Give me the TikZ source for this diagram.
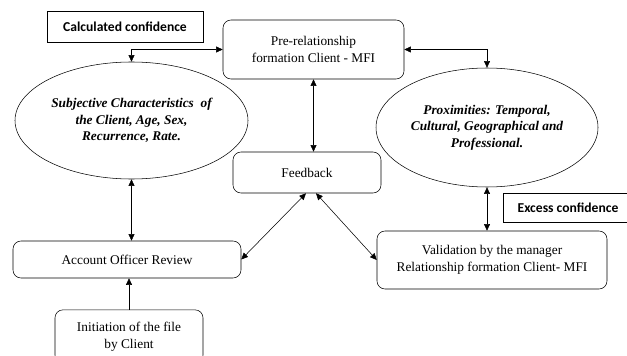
\documentclass[tikz,border=0pt]{standalone}
\usepackage{fontspec}
\setmainfont{Liberation Serif}
\newfontfamily\calibrifont{Carlito}
\usetikzlibrary{arrows.meta,positioning,shapes.geometric,calc}
\tikzset{
    stagebox/.style={draw,rounded corners=6pt,align=center,font=\fontsize{10}{12.5}\selectfont,inner sep=0pt},
    factor/.style={draw,ellipse,align=center,inner sep=0pt,font=\fontsize{10}{12.5}\selectfont\bfseries\itshape},
    tag/.style={draw,align=center,inner sep=0pt,font=\fontsize{10.2}{12}\selectfont\calibrifont\bfseries},
    link/.style={{Triangle[length=5pt,width=4.5pt]}-{Triangle[length=5pt,width=4.5pt]},thin},
    push/.style={-{Triangle[length=5pt,width=4.5pt]},thin}
}

\begin{document}
\begin{tikzpicture}[x=0.75pt,y=-0.75pt]
    \useasboundingbox (0,0) rectangle (627,356);
    \begin{scope}
    \clip (0,0) rectangle (627,356);
    \node [tag,minimum width=117pt,minimum height=23.25pt] (calc) at (125,26.5) {Calculated confidence};
    \node [stagebox,minimum width=135.75pt,minimum height=44.25pt] (pre) at (313.5,49.5) {Pre-relationship\\formation Client - MFI};
    \node [factor,minimum width=174.75pt,minimum height=87.75pt] (subj) at (131.5,120.5) {Subjective Characteristics~ of\\the Client, Age, Sex,\\Recurrence, Rate.};
    \node [factor,minimum width=166.5pt,minimum height=89.25pt] (prox) at (487,127.5) {Proximities: Temporal,\\Cultural, Geographical and\\Professional.};
    \node [stagebox,minimum width=111pt,minimum height=30.75pt] (feed) at (307,172.5) {Feedback};
    \node [tag,minimum width=97.5pt,minimum height=21.75pt] (excess) at (568,207.5) {Excess confidence};
    \node [stagebox,minimum width=171pt,minimum height=27.75pt] (review) at (127,259.5) {Account Officer Review};
    \node [stagebox,minimum width=172.5pt,minimum height=43.5pt] (valid) at (492,260) {Validation by the manager\\Relationship formation Client- MFI};
    \node [stagebox,minimum width=111pt,minimum height=40pt] (init) at (129,336.5) {Initiation of the file\\by Client};
    \end{scope}

    \draw [link] (pre.west) -| (subj.north);
    \draw [link] (pre.east) -| (prox.north);
    \draw [link] (pre.south) -- (pre.south |- feed.north);
    \draw [link] (subj.south) -- (subj.south |- review.north);
    \draw [push] (init.north) -- (init.north |- review.south);
    \draw [link] ([xshift=-0.75pt]feed.south) -- (review.east);
    \draw [link] ([xshift=6.75pt]feed.south) -- (valid.west);
    \draw [link] (prox.south) -- (prox.south |- valid.north);
\end{tikzpicture}
\end{document}
